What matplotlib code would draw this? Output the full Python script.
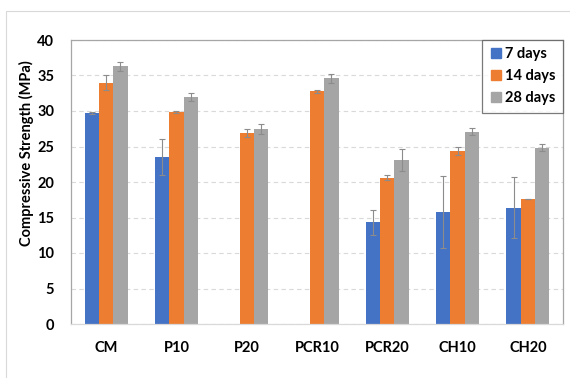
import matplotlib
matplotlib.use("Agg")
import matplotlib.pyplot as plt
import numpy as np
from matplotlib.patches import Rectangle
from matplotlib.lines import Line2D

categories = ["CM", "P10", "P20", "PCR10", "PCR20", "CH10", "CH20"]
series_names = ["7 days", "14 days", "28 days"]
days7 = [29.7, 23.5, 0, 0, 14.3, 15.8, 16.4]
days7_err = [0.1, 2.5, 0, 0, 1.8, 5.1, 4.3]
days14 = [34.0, 29.9, 26.9, 32.8, 20.6, 24.4, 17.6]
days14_err = [1.1, 0.15, 0.5, 0.2, 0.35, 0.6, 0.05]
days28 = [36.3, 32.0, 27.5, 34.6, 23.1, 27.1, 24.8]
days28_err = [0.6, 0.55, 0.7, 0.65, 1.5, 0.5, 0.5]
colors = ["#4472C4", "#ED7D31", "#A5A5A5"]

plt.rcParams['font.family'] = ['Lato', 'DejaVu Sans']
plt.rcParams['font.weight'] = 'bold'

fig = plt.figure(figsize=(5.7, 3.78), dpi=100)
# outer chart border
fig.patches.append(Rectangle((6/570, -0.1), 1.2, (378-11)/378 + 0.1, transform=fig.transFigure,
                             fill=False, edgecolor="#D9D9D9", linewidth=0.8))
ax = fig.add_axes([71/570, (378-324)/378, (563-71)/570, (324-40)/378])

x = np.arange(len(categories))
w = 0.204
data = [(days7, days7_err), (days14, days14_err), (days28, days28_err)]
for i, ((vals, errs), c) in enumerate(zip(data, colors)):
    pos = x + (i - 1) * w
    vals = np.array(vals, dtype=float)
    errs = np.array(errs, dtype=float)
    mask = vals > 0
    ax.bar(pos[mask], vals[mask], width=w, color=c, zorder=2, label=series_names[i])
    ax.errorbar(pos[mask], vals[mask], yerr=errs[mask], fmt='none', ecolor="#8C8C8C",
                elinewidth=0.8, capsize=2.2, capthick=0.8, zorder=3)

ax.set_xlim(-0.5, len(categories) - 0.5)
ax.set_ylim(0, 40)
ax.set_yticks(np.arange(0, 41, 5))
ax.set_xticks(x)
ax.set_xticklabels(categories, fontsize=10.5, fontweight='bold')
for t in ax.get_yticklabels():
    t.set_fontsize(10.5)
    t.set_fontweight('bold')
ax.tick_params(axis='both', length=0)
ax.tick_params(axis='y', pad=12)
ax.tick_params(axis='x', pad=12)
ax.yaxis.grid(True, linestyle=(0, (4, 3)), color="#D9D9D9", linewidth=0.8, zorder=0)
ax.set_axisbelow(True)
for s in ["left", "top", "right"]:
    ax.spines[s].set_color("#A6A6A6")
    ax.spines[s].set_linewidth(0.9)
ax.spines["bottom"].set_color("#D9D9D9")
ax.spines["bottom"].set_linewidth(0.9)

ax.set_ylabel("Compressive Strength (MPa)", fontsize=10.5, fontweight='bold')
ax.yaxis.set_label_coords(-0.075, 0.6)

handles = [Line2D([0], [0], marker='s', linestyle='none', markersize=7,
                  markerfacecolor=c, markeredgecolor=c) for c in colors]
leg = ax.legend(handles, series_names, loc='upper right',
                frameon=True, fancybox=False, edgecolor="#595959",
                borderaxespad=0, handletextpad=0.1, handlelength=1.0,
                borderpad=0.5, labelspacing=0.55, prop={'weight': 'bold', 'size': 10.5})
leg.get_frame().set_linewidth(0.9)

fig.savefig("out.png", dpi=100)
